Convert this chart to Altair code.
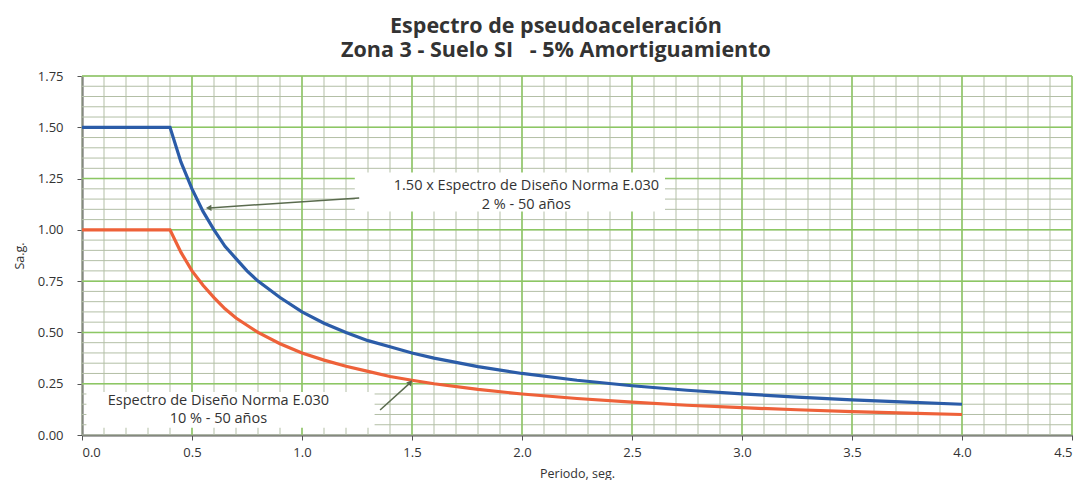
import altair as alt
import pandas as pd

# ---- data ----
periods = [0.0, 0.4, 0.45, 0.5, 0.55, 0.6, 0.65, 0.7, 0.75, 0.8, 0.9, 1.0, 1.1, 1.2, 1.3, 1.4,
           1.5, 1.6, 1.8, 2.0, 2.25, 2.5, 2.75, 3.0, 3.25, 3.5, 3.75, 4.0]
sa_10 = [1.00, 1.00, 0.89, 0.80, 0.73, 0.67, 0.615, 0.57, 0.535, 0.50, 0.445, 0.40, 0.365,
         0.335, 0.31, 0.285, 0.267, 0.25, 0.222, 0.20, 0.178, 0.16, 0.145, 0.133, 0.123,
         0.114, 0.107, 0.10]
sa_2 = [1.50, 1.50, 1.33, 1.20, 1.09, 1.00, 0.92, 0.86, 0.80, 0.75, 0.67, 0.60, 0.545,
        0.50, 0.46, 0.43, 0.40, 0.375, 0.333, 0.30, 0.267, 0.24, 0.218, 0.20, 0.185,
        0.171, 0.16, 0.15]

x_major = [0.0, 0.5, 1.0, 1.5, 2.0, 2.5, 3.0, 3.5, 4.0, 4.5]
y_major = [0.0, 0.25, 0.5, 0.75, 1.0, 1.25, 1.5, 1.75]
x_minor = [round(i * 0.1, 1) for i in range(46)]
y_minor = [round(i * 0.05, 2) for i in range(36)]

NB = "\u00a0"
title_main = "Espectro de pseudoaceleración"
title_sub = "Zona 3 - Suelo SI" + NB * 3 + "- 5% Amortiguamiento"
label_2 = ["1.50 x Espectro de Diseño Norma E.030", "2 % - 50 años"]
label_10 = ["Espectro de Diseño Norma E.030", "10 % - 50 años"]

FONT = "Open Sans"
BLUE = "#2b5ca8"
RED = "#ee6139"
ARROW = "#5a6b4e"

xs = alt.Scale(domain=[0, 4.5], nice=False, zero=False)
ys = alt.Scale(domain=[0, 1.75], nice=False, zero=False)

common = dict(grid=False, domainColor="#555555", domainWidth=2, tickColor="#555555",
              tickSize=5, labelFontSize=13, titleFontSize=12.5,
              labelColor="#333333", titleColor="#333333", labelFont=FONT,
              titleFont=FONT, titleFontWeight="normal")
x_axis = alt.Axis(values=x_major, format=".1f", labelPadding=6, titlePadding=8, **common)
y_axis = alt.Axis(values=y_major, format=".2f", labelPadding=14, titlePadding=11, **common)
XT = "Periodo, seg."
YT = "Sa.g."


def X(f):
    return alt.X(f, scale=xs, axis=x_axis, title=XT)


def Y(f):
    return alt.Y(f, scale=ys, axis=y_axis, title=YT)


curves = pd.DataFrame({
    "T": periods * 2,
    "Sa": sa_2 + sa_10,
    "serie": ["2%"] * len(periods) + ["10%"] * len(periods),
})

# grid
gx_minor = alt.Chart(pd.DataFrame({"x": x_minor})).mark_rule(color="#b3bfa6", strokeWidth=1).encode(x=X("x:Q"))
gy_minor = alt.Chart(pd.DataFrame({"y": y_minor})).mark_rule(color="#b3bfa6", strokeWidth=1).encode(y=Y("y:Q"))
gx_major = alt.Chart(pd.DataFrame({"x": x_major[1:]})).mark_rule(color="#8cc763", strokeWidth=1.5).encode(x=X("x:Q"))
gy_major = alt.Chart(pd.DataFrame({"y": y_major[1:]})).mark_rule(color="#8cc763", strokeWidth=1.5).encode(y=Y("y:Q"))

lines = alt.Chart(curves).mark_line(strokeWidth=3.2).encode(
    x=X("T:Q"), y=Y("Sa:Q"),
    color=alt.Color("serie:N", scale=alt.Scale(domain=["2%", "10%"], range=[BLUE, RED]), legend=None),
    detail="serie:N",
)

boxes = pd.DataFrame({
    "x": [1.24, 0.02], "x2": [2.65, 1.33],
    "y": [1.09, 0.035], "y2": [1.28, 0.21],
})
box_layer = alt.Chart(boxes).mark_rect(color="white").encode(
    x=X("x:Q"), x2="x2", y=Y("y:Q"), y2="y2")

texts = pd.DataFrame({
    "x": [2.02, 2.02, 0.62, 0.62],
    "y": [1.212, 1.122, 0.167, 0.080],
    "t": [label_2[0], label_2[1], label_10[0], label_10[1]],
})
text_layer = alt.Chart(texts).mark_text(font=FONT, fontSize=14.5, color="#333333").encode(
    x=X("x:Q"), y=Y("y:Q"), text="t:N")

arrows = pd.DataFrame({
    "x": [1.26, 1.355], "y": [1.155, 0.122],
    "x2": [0.58, 1.49], "y2": [1.107, 0.253],
})
arrow_lines = alt.Chart(arrows).mark_rule(color=ARROW, strokeWidth=1.5).encode(
    x=X("x:Q"), y=Y("y:Q"), x2="x2", y2="y2")
heads = pd.DataFrame({"x": [0.58, 1.49], "y": [1.107, 0.253], "a": [268, 40]})
arrow_heads = alt.Chart(heads).mark_point(shape="triangle", filled=True, size=40, color=ARROW, opacity=1).encode(
    x=X("x:Q"), y=Y("y:Q"), angle=alt.Angle("a:Q", scale=None))

chart = alt.layer(
    gx_minor, gy_minor, gx_major, gy_major, lines, box_layer, text_layer, arrow_lines, arrow_heads
).properties(
    width=990, height=359,
    autosize=alt.AutoSizeParams(type="none"),
    padding={"left": 74, "top": 68, "right": 10, "bottom": 45},
    title=alt.TitleParams(text=title_main, subtitle=title_sub,
                          font=FONT, fontSize=21.5, fontWeight="bold", color="#333333",
                          subtitleFont=FONT, subtitleFontSize=21.5, subtitleFontWeight="bold",
                          subtitleColor="#333333", subtitlePadding=2,
                          anchor="middle", offset=9, dx=-21),
).configure_view(stroke=None)

chart.save("out.html", embed_options={"renderer": "svg", "actions": False})
